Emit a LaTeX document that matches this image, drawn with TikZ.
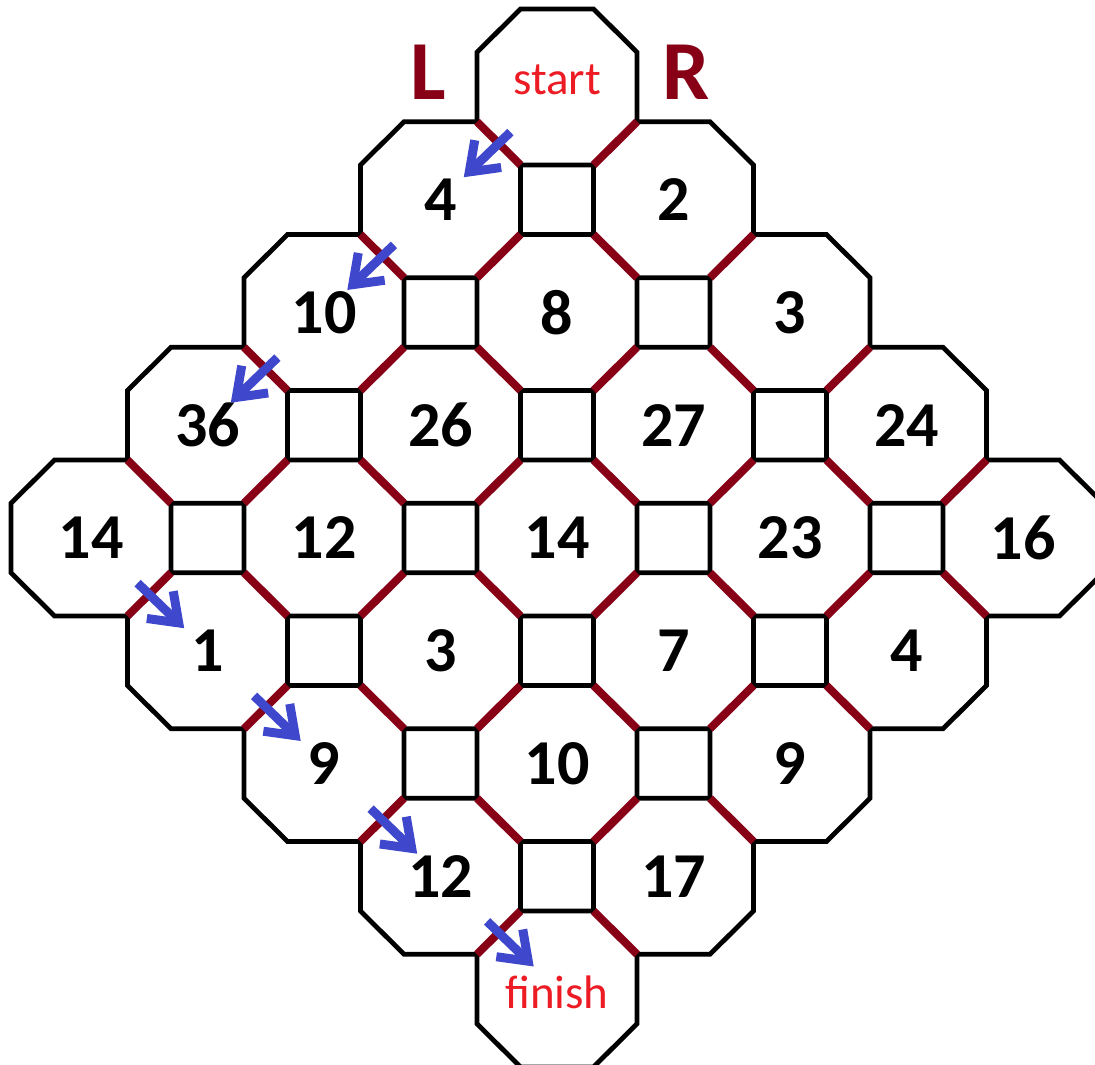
\documentclass[tikz,border=0pt]{standalone}
\usepackage{fontspec}
\setmainfont{Carlito}
\usetikzlibrary{arrows.meta,calc}
\definecolor{seamred}{RGB}{136,0,21}
\definecolor{markred}{RGB}{237,28,36}
\definecolor{pathblue}{RGB}{63,72,204}

\begin{document}
\begin{tikzpicture}[
    x=0.5pt, y=-0.5pt,
    cell/.style={draw=black, line width=2.4pt},
    num/.style={font=\bfseries\fontsize{32}{32}\selectfont, inner sep=0pt},
    endp/.style={font=\fontsize{23.5}{23.5}\selectfont, text=markred, inner sep=0pt, text depth=0pt},
    side/.style={font=\bfseries\fontsize{42}{42}\selectfont, text=seamred, inner sep=0pt},
    seam/.style={draw=seamred, line width=4pt},
    walk/.style={-{Straight Barb[length=13pt, width=19pt]}, draw=pathblue, line width=4.5pt},
    octo/.pic={\draw[cell] (-36.5,-78) -- (36.5,-78) -- (80,-34.75) -- (80,34.75)
                 -- (36.5,78) -- (-36.5,78) -- (-80,34.75) -- (-80,-34.75) -- cycle;}
  ]
  \fill[white] (0,0) rectangle (1095,1064);
  \useasboundingbox (0,0) rectangle (1095,1064);

  % cells: L steps / R steps / value
  \foreach \p/\q/\t in {0/1/2, 0/2/3, 0/3/24, 0/4/16,
                        1/0/4, 1/1/8, 1/2/27, 1/3/23, 1/4/4,
                        2/0/10, 2/1/26, 2/2/14, 2/3/7, 2/4/9,
                        3/0/36, 3/1/12, 3/2/3, 3/3/10, 3/4/17,
                        4/0/14, 4/1/1, 4/2/9, 4/3/12} {
    \pic at ({557+116.5*(\q-\p)},{87+112.75*(\p+\q)}) {octo};
    \node[num] (c-\p-\q) at ({557+116.5*(\q-\p)},{87+112.75*(\p+\q)}) {\t};
  }
  \pic at (557,87) {octo};
  \node[endp, text height=8pt] (c-0-0) at (557,87) {start};
  \pic at (557,989) {octo};
  \node[endp, text height=19pt] (c-4-4) at (557,989) {finish};

  \node[side] (side-L) at (428,72) {L};
  \node[side] (side-R) at (686,72) {R};

  % shared edges
  \foreach \p in {0,...,4} \foreach \q in {0,...,3}
    \draw[seam] ($(c-\p-\q)+(36.5,78)$) -- ($(c-\p-\q)+(80,34.75)$);
  \foreach \p in {0,...,3} \foreach \q in {0,...,4}
    \draw[seam] ($(c-\p-\q)+(-36.5,78)$) -- ($(c-\p-\q)+(-80,34.75)$);

  % the route
  \foreach \a/\b in {0-0/1-0, 1-0/2-0, 2-0/3-0, 4-0/4-1, 4-1/4-2, 4-2/4-3, 4-3/4-4}
    \draw[walk] ($(c-\a)!0.4!(c-\b)$) -- ($(c-\a)!0.8!(c-\b)$);
\end{tikzpicture}
\end{document}
